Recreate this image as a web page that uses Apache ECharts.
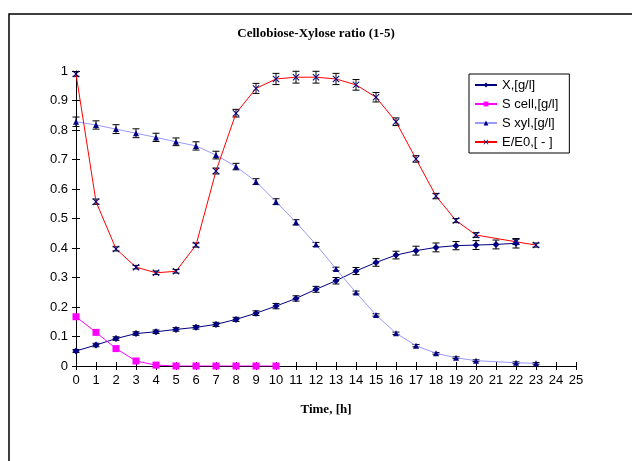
<!DOCTYPE html>
<html lang="en">
<head>
    <meta charset="UTF-8">
    <title>cellobiose-xylose</title>
    <script src="https://cdn.jsdelivr.net/npm/echarts@6/dist/echarts.min.js"></script>
</head>
<body style="margin:0;">
<div id="main" style="width: 632px;height:461px;"></div>
</body>

<script type="text/javascript">

    // time points (h) for each series, some skip t=21
    var tX = [0, 1, 2, 3, 4, 5, 6, 7, 8, 9, 10, 11, 12, 13, 14, 15, 16, 17, 18, 19, 20, 21, 22];
    var valX = [0.051, 0.071, 0.093, 0.110, 0.116, 0.124, 0.131, 0.141, 0.158, 0.179, 0.203, 0.229,
        0.260, 0.289, 0.322, 0.351, 0.376, 0.391, 0.402, 0.408, 0.410, 0.412, 0.416];
    var errX = [0.005, 0.006, 0.006, 0.006, 0.006, 0.006, 0.006, 0.007, 0.007, 0.008, 0.009, 0.009,
        0.010, 0.011, 0.012, 0.013, 0.013, 0.015, 0.015, 0.014, 0.015, 0.015, 0.016];

    var tCell = [0, 1, 2, 3, 4, 5, 6, 7, 8, 9, 10];
    var valCell = [0.167, 0.114, 0.059, 0.017, 0.003, 0, 0, 0, 0, 0, 0];

    var tXyl = [0, 1, 2, 3, 4, 5, 6, 7, 8, 9, 10, 11, 12, 13, 14, 15, 16, 17, 18, 19, 20, 22, 23];
    var valXyl = [0.828, 0.817, 0.803, 0.789, 0.775, 0.760, 0.746, 0.715, 0.676, 0.625, 0.557, 0.487,
        0.412, 0.329, 0.249, 0.173, 0.111, 0.069, 0.043, 0.028, 0.018, 0.011, 0.009];
    var errXyl = [0.016, 0.014, 0.015, 0.015, 0.014, 0.013, 0.014, 0.013, 0.011, 0.010, 0.010, 0.009,
        0.007, 0.006, 0.005, 0.004, 0.004, 0.004, 0.003, 0.003, 0.003, 0.003, 0.003];

    var tE = [0, 1, 2, 3, 4, 5, 6, 7, 8, 9, 10, 11, 12, 13, 14, 15, 16, 17, 18, 19, 20, 22, 23];
    var valE = [0.990, 0.557, 0.397, 0.335, 0.316, 0.321, 0.410, 0.661, 0.857, 0.941, 0.973, 0.979,
        0.979, 0.973, 0.953, 0.911, 0.828, 0.702, 0.576, 0.493, 0.444, 0.421, 0.410];
    var errE = [0.008, 0.009, 0.007, 0.006, 0.006, 0.006, 0.007, 0.010, 0.013, 0.017, 0.019, 0.020,
        0.020, 0.019, 0.018, 0.016, 0.013, 0.011, 0.009, 0.007, 0.008, 0.009, 0.007];

    var seriesNames = ['X,[g/l]', 'S cell,[g/l]', 'S xyl,[g/l]', 'E/E0,[ - ]'];

    var pairs = function (t, v) {
        var res = [];
        for (var i = 0; i < t.length; i++) {
            res.push([t[i], v[i]]);
        }
        return res;
    };

    var bars = function (t, v, e) {
        var res = [];
        for (var i = 0; i < t.length; i++) {
            res.push([t[i], v[i] - e[i], v[i] + e[i]]);
        }
        return res;
    };

    var renderErr = function (params, api) {
        var lo = api.coord([api.value(0), api.value(1)]);
        var hi = api.coord([api.value(0), api.value(2)]);
        var w = 3.5;
        return {
            type: 'group',
            children: [
                {type: 'line', shape: {x1: lo[0], y1: lo[1], x2: hi[0], y2: hi[1]}, style: {stroke: '#000', lineWidth: 1}},
                {type: 'line', shape: {x1: lo[0] - w, y1: lo[1], x2: lo[0] + w, y2: lo[1]}, style: {stroke: '#000', lineWidth: 1}},
                {type: 'line', shape: {x1: hi[0] - w, y1: hi[1], x2: hi[0] + w, y2: hi[1]}, style: {stroke: '#000', lineWidth: 1}}
            ]
        };
    };

    var crossMark = 'path://M0,1L1,0L5,4L9,0L10,1L6,5L10,9L9,10L5,6L1,10L0,9L4,5Z';
    var labelFont = {fontFamily: 'Liberation Sans', fontSize: 13, color: '#000'};

    var option = {
        backgroundColor: '#fff',
        animation: false,
        title: {
            text: 'Cellobiose-Xylose ratio (1-5)',
            left: 'center',
            top: 22,
            textStyle: {fontFamily: 'Liberation Serif', fontSize: 13, fontWeight: 'bold', color: '#000'}
        },
        graphic: [{
            type: 'rect',
            shape: {x: 9, y: 14, width: 640, height: 460},
            style: {fill: 'none', stroke: '#000', lineWidth: 1.5},
            silent: true
        }],
        legend: {
            orient: 'vertical',
            left: 469,
            top: 74,
            data: seriesNames,
            backgroundColor: '#fff',
            borderColor: '#000',
            borderWidth: 1,
            padding: [4, 11, 4, 5],
            itemWidth: 22,
            itemHeight: 6,
            itemGap: 5,
            textStyle: Object.assign({lineHeight: 14}, labelFont)
        },
        grid: {left: 76, right: 56, top: 71, bottom: 95},
        xAxis: [{
            type: 'value', min: 0, max: 25, interval: 1,
            name: 'Time, [h]', nameLocation: 'middle', nameGap: 37,
            nameTextStyle: {fontFamily: 'Liberation Serif', fontSize: 13, fontWeight: 'bold', color: '#000'},
            axisLine: {lineStyle: {color: '#000', width: 1}},
            axisTick: {length: 4, lineStyle: {color: '#000'}},
            axisLabel: labelFont,
            splitLine: {show: false}
        }, {
            type: 'value', min: 0, max: 25, interval: 1, position: 'bottom',
            axisLine: {show: false},
            axisTick: {inside: true, length: 4, lineStyle: {color: '#000'}},
            axisLabel: {show: false},
            splitLine: {show: false}
        }],
        yAxis: [{
            type: 'value', min: 0, max: 1, interval: 0.1,
            axisLine: {show: true, lineStyle: {color: '#000', width: 1}},
            axisTick: {show: true, length: 4, lineStyle: {color: '#000'}},
            axisLabel: Object.assign({margin: 8}, labelFont),
            splitLine: {show: false}
        }, {
            type: 'value', min: 0, max: 1, interval: 0.1, position: 'left',
            axisLine: {show: false},
            axisTick: {show: true, inside: true, length: 4, lineStyle: {color: '#000'}},
            axisLabel: {show: false},
            splitLine: {show: false}
        }],
        series: [
            {type: 'custom', name: 'errX', renderItem: renderErr, data: bars(tX, valX, errX), encode: {x: 0, y: [1, 2]}, z: 3},
            {type: 'custom', name: 'errXyl', renderItem: renderErr, data: bars(tXyl, valXyl, errXyl), encode: {x: 0, y: [1, 2]}, z: 3},
            {type: 'custom', name: 'errE', renderItem: renderErr, data: bars(tE, valE, errE), encode: {x: 0, y: [1, 2]}, z: 3},
            {
                name: seriesNames[0], type: 'line', data: pairs(tX, valX),
                symbol: 'diamond', symbolSize: 7,
                lineStyle: {color: '#000080', width: 1},
                itemStyle: {color: '#000080'}, z: 4
            },
            {
                name: seriesNames[1], type: 'line', data: pairs(tCell, valCell),
                symbol: 'rect', symbolSize: 7,
                lineStyle: {color: '#ff00ff', width: 1},
                itemStyle: {color: '#ff00ff'}, z: 4
            },
            {
                name: seriesNames[2], type: 'line', data: pairs(tXyl, valXyl),
                symbol: 'triangle', symbolSize: 6,
                lineStyle: {color: '#9999ff', width: 1},
                itemStyle: {color: '#000080'}, z: 4
            },
            {
                name: seriesNames[3], type: 'line', data: pairs(tE, valE),
                symbol: crossMark, symbolSize: 7,
                lineStyle: {color: '#ff0000', width: 1},
                itemStyle: {color: '#000080'}, z: 4
            }
        ]
    };

    var myChart = echarts.init(document.getElementById('main'));
    myChart.setOption(option);

</script>
</html>
